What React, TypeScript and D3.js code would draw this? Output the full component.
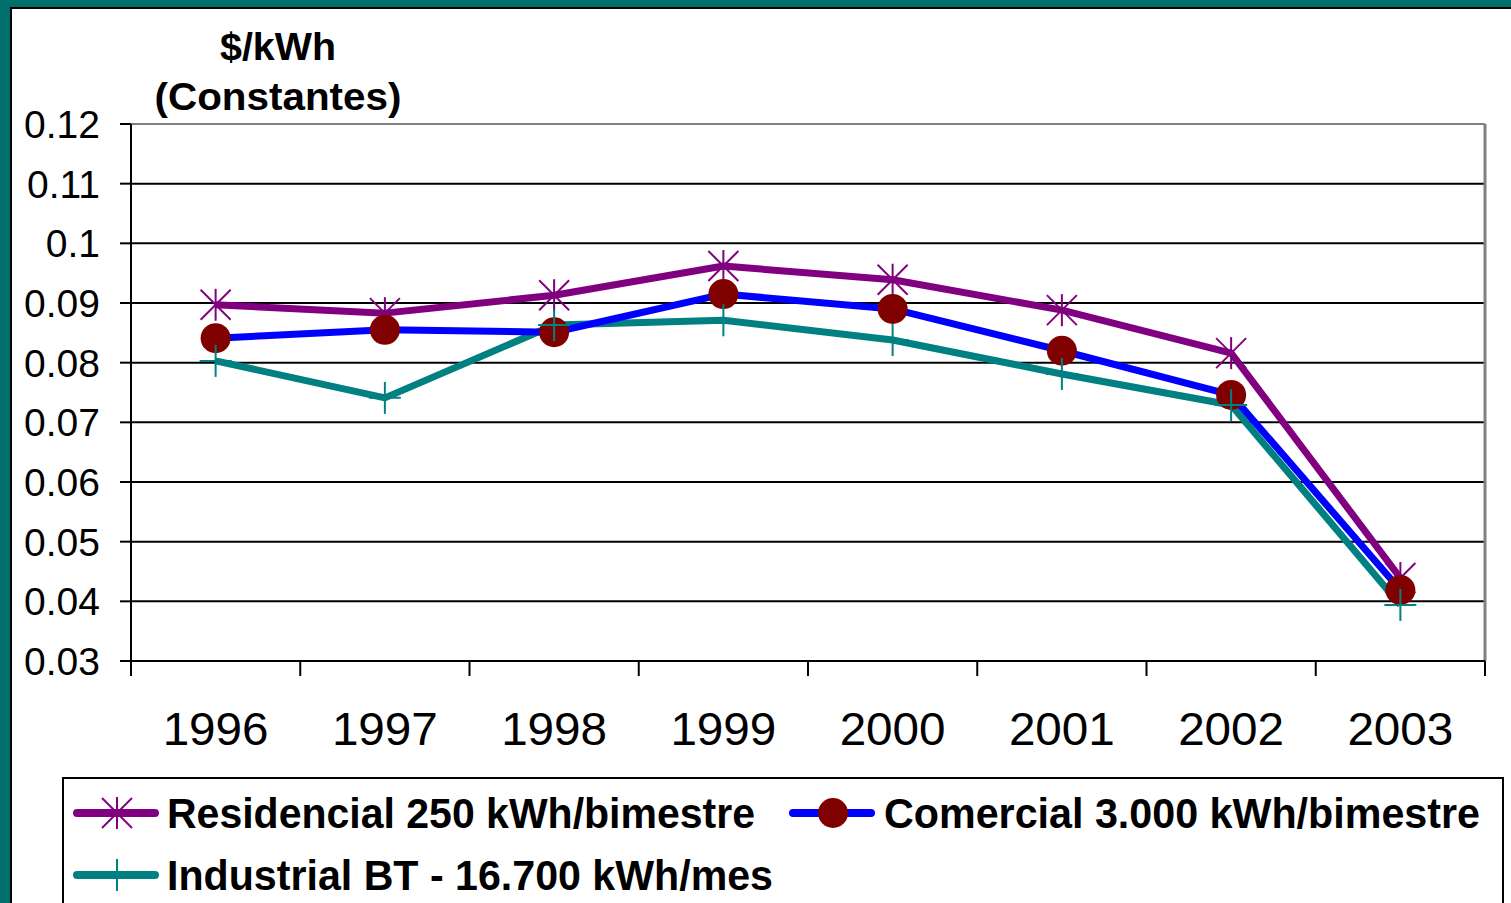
import React from "react";
import * as d3 from "d3";

const years = ["1996", "1997", "1998", "1999", "2000", "2001", "2002", "2003"];
const residencial = [0.0897, 0.0883, 0.0913, 0.0962, 0.0939, 0.0888, 0.0816, 0.0439];
const comercial = [0.0841, 0.0855, 0.0851, 0.0915, 0.089, 0.082, 0.0746, 0.0419];
const industrial = [0.0803, 0.0741, 0.0863, 0.0871, 0.0838, 0.0781, 0.0729, 0.0394];
const yTicks = [0.03, 0.04, 0.05, 0.06, 0.07, 0.08, 0.09, 0.1, 0.11, 0.12];

const W = 1511;
const H = 903;
const left = 131;
const right = 1485;
const top = 124;
const bottom = 661;
const font = "'Liberation Sans', Arial, sans-serif";

type Marker = "star" | "circle" | "plus";

const series = [
  { name: "Residencial 250 kWh/bimestre", values: residencial, color: "#800080", marker: "star" as Marker, mfill: "#800080" },
  { name: "Comercial 3.000 kWh/bimestre", values: comercial, color: "#0000ff", marker: "circle" as Marker, mfill: "#800000" },
  { name: "Industrial BT - 16.700 kWh/mes", values: industrial, color: "#008080", marker: "plus" as Marker, mfill: "#008080" },
];

const drawMarker = (m: Marker, x: number, y: number, c: string, key: string) => {
  if (m === "circle") return <circle key={key} cx={x} cy={y} r={15} fill={c} />;
  if (m === "plus")
    return (
      <g key={key} stroke={c} strokeWidth={2}>
        <line x1={x - 16} y1={y} x2={x + 16} y2={y} />
        <line x1={x} y1={y - 16} x2={x} y2={y + 16} />
      </g>
    );
  return (
    <g key={key} stroke={c} strokeWidth={2}>
      <line x1={x - 15} y1={y - 15} x2={x + 15} y2={y + 15} />
      <line x1={x - 15} y1={y + 15} x2={x + 15} y2={y - 15} />
      <line x1={x} y1={y - 16} x2={x} y2={y + 16} />
    </g>
  );
};

const App = () => {
  const x = d3.scaleBand().domain(years).range([left, right]);
  const y = d3.scaleLinear().domain([0.03, 0.12]).range([bottom, top]);
  const cx = (d: string) => (x(d) ?? 0) + x.bandwidth() / 2;
  const line = d3
    .line<number>()
    .x((_, i) => cx(years[i]))
    .y((v) => y(v));

  const legendItems = [
    { s: series[0], lx: 77, ly: 813, tx: 167, tl: 588 },
    { s: series[1], lx: 793, ly: 813, tx: 884, tl: 596 },
    { s: series[2], lx: 77, ly: 875, tx: 167, tl: 606 },
  ];

  return (
    <div style={{ position: "absolute", left: 0, top: 0 }}>
      <svg width={W} height={H} style={{ display: "block" }}>
        <rect x={0} y={0} width={W} height={H} fill="#006f6b" />
        <rect x={11} y={8} width={W} height={H} fill="#ffffff" stroke="#000" strokeWidth={2} />

        {/* axis title */}
        <text x={278} y={60} textAnchor="middle" fontFamily={font} fontWeight="bold" fontSize={39} textLength={116} lengthAdjust="spacingAndGlyphs">
          $/kWh
        </text>
        <text x={278} y={110} textAnchor="middle" fontFamily={font} fontWeight="bold" fontSize={39} textLength={247} lengthAdjust="spacingAndGlyphs">
          (Constantes)
        </text>

        {/* gridlines and y ticks */}
        {yTicks.map((t) => (
          <g key={t}>
            <line
              x1={left}
              x2={right}
              y1={y(t)}
              y2={y(t)}
              stroke={t === 0.12 ? "#808080" : "#000"}
              strokeWidth={2}
            />
            <line x1={120} x2={left} y1={y(t)} y2={y(t)} stroke="#000" strokeWidth={2} />
            <text x={100} y={y(t) + 14} textAnchor="end" fontFamily={font} fontSize={39}>
              {String(t)}
            </text>
          </g>
        ))}
        <line x1={right} x2={right} y1={top} y2={bottom} stroke="#808080" strokeWidth={3} />
        <line x1={left} x2={left} y1={top} y2={bottom + 15} stroke="#000" strokeWidth={2} />
        <line x1={left} x2={right} y1={bottom} y2={bottom} stroke="#000" strokeWidth={2} />

        {/* x ticks */}
        {years.map((d) => (
          <g key={d}>
            <line
              x1={(x(d) ?? 0) + x.bandwidth()}
              x2={(x(d) ?? 0) + x.bandwidth()}
              y1={bottom}
              y2={bottom + 15}
              stroke="#000"
              strokeWidth={2}
            />
            <text x={cx(d)} y={745} textAnchor="middle" fontFamily={font} fontSize={46} textLength={106} lengthAdjust="spacingAndGlyphs">
              {d}
            </text>
          </g>
        ))}

        {/* series: lines then markers */}
        {series
          .slice()
          .reverse()
          .map((s) => (
            <path key={s.name} d={line(s.values) ?? ""} fill="none" stroke={s.color} strokeWidth={7} strokeLinejoin="round" />
          ))}
        {series.map((s) =>
          s.values.map((v, i) => drawMarker(s.marker, cx(years[i]), y(v), s.mfill, s.name + i))
        )}

        {/* legend */}
        <rect x={63} y={778} width={1440} height={140} fill="#fff" stroke="#000" strokeWidth={2} />
        {legendItems.map(({ s, lx, ly, tx, tl }) => (
          <g key={s.name}>
            <line x1={lx} x2={lx + 78} y1={ly} y2={ly} stroke={s.color} strokeWidth={8} strokeLinecap="round" />
            {drawMarker(s.marker, lx + 40, ly, s.mfill, "lg" + s.name)}
            <text
              x={tx}
              y={ly + 15}
              fontFamily={font}
              fontWeight="bold"
              fontSize={42}
              textLength={tl}
              lengthAdjust="spacingAndGlyphs"
            >
              {s.name}
            </text>
          </g>
        ))}
      </svg>
    </div>
  );
};

export default App;
